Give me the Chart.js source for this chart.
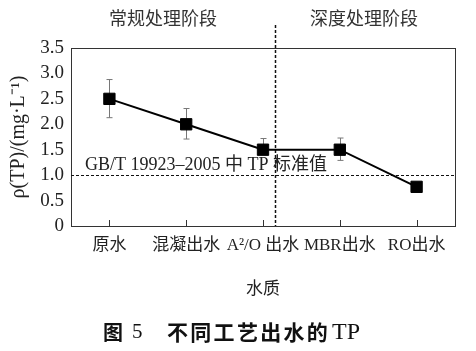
<!DOCTYPE html>
<html>
<head>
<meta charset="utf-8">
<script src="https://cdn.jsdelivr.net/npm/chart.js@4"></script>
<style>
  html, body { margin: 0; padding: 0; background: #fff; }
  #wrap { width: 476px; height: 351px; }
</style>
</head>
<body>
<div id="wrap"><canvas id="tpChart" width="476" height="351"></canvas></div>
<script>
// données
const categories = ['原水', '混凝出水', 'A²/O 出水', 'MBR出水', 'RO出水'];
const tpValues = [2.5, 2.0, 1.5, 1.5, 0.77];
const errHigh = [2.88, 2.31, 1.72, 1.73, null];
const errLow = [2.13, 1.71, 1.45, 1.29, null];
const standardValue = 1.0;
const standardLabel = 'GB/T 19923–2005 中 TP 标准值';
const stageLabels = ['常规处理阶段', '深度处理阶段'];
const stageDivider = 2.16; // entre A²/O et MBR

const SERIF = "'Liberation Serif', 'Noto Sans CJK SC', serif";
const INK = '#222';

// plugin: cadre, ligne de norme, séparateur, barres d'erreur, textes
const decor = {
    id: 'decor',
    beforeDraw(chart) {
        const ctx = chart.ctx;
        ctx.save();
        ctx.fillStyle = '#fff';
        ctx.fillRect(0, 0, chart.width, chart.height);
        ctx.restore();
    },
    beforeDatasetsDraw(chart) {
        const { ctx, chartArea: a, scales: { x, y } } = chart;
        ctx.save();
        // cadre
        ctx.strokeStyle = '#333';
        ctx.lineWidth = 1;
        ctx.strokeRect(a.left + 0.5, a.top + 0.5, a.right - a.left, a.bottom - a.top);
        // petits traits vers l'intérieur
        categories.forEach((c, i) => {
            const px = Math.round(x.getPixelForValue(i)) + 0.5;
            ctx.beginPath();
            ctx.moveTo(px, a.bottom);
            ctx.lineTo(px, a.bottom - 6);
            ctx.stroke();
        });
        // ligne de norme
        const yStd = Math.round(y.getPixelForValue(standardValue)) + 0.5;
        ctx.setLineDash([3, 2]);
        ctx.strokeStyle = '#111';
        ctx.beginPath();
        ctx.moveTo(a.left, yStd);
        ctx.lineTo(a.right, yStd);
        ctx.stroke();
        // séparateur des étapes
        const x0 = x.getPixelForValue(2), x1 = x.getPixelForValue(3);
        const xd = Math.round(x0 + (x1 - x0) * (stageDivider - 2)) + 0.5;
        ctx.lineWidth = 1.5;
        ctx.setLineDash([3, 2]);
        ctx.beginPath();
        ctx.moveTo(xd, 25);
        ctx.lineTo(xd, a.bottom);
        ctx.stroke();
        ctx.setLineDash([]);
        // barres d'erreur
        ctx.strokeStyle = '#777';
        ctx.lineWidth = 1;
        tpValues.forEach((v, i) => {
            if (errHigh[i] == null) return;
            const px = Math.round(x.getPixelForValue(i)) + 0.5;
            const yh = y.getPixelForValue(errHigh[i]);
            const yl = y.getPixelForValue(errLow[i]);
            ctx.beginPath();
            ctx.moveTo(px, yh); ctx.lineTo(px, yl);
            ctx.moveTo(px - 3, yh); ctx.lineTo(px + 3, yh);
            ctx.moveTo(px - 3, yl); ctx.lineTo(px + 3, yl);
            ctx.stroke();
        });
        // texte de la norme
        ctx.fillStyle = INK;
        ctx.font = '18px ' + SERIF;
        ctx.textBaseline = 'alphabetic';
        ctx.textAlign = 'left';
        ctx.fillText(standardLabel, 85, yStd - 6);
        // étapes
        ctx.font = '18px ' + SERIF;
        ctx.textAlign = 'center';
        ctx.textBaseline = 'middle';
        ctx.fillStyle = '#333';
        ctx.fillText(stageLabels[0], 163, 20);
        ctx.fillText(stageLabels[1], 364, 20);
        ctx.restore();
    },
    afterDraw(chart) {
        const ctx = chart.ctx;
        ctx.save();
        ctx.fillStyle = '#111';
        ctx.textBaseline = 'middle';
        ctx.textAlign = 'left';
        const yc = 332;
        let cx = 103;
        ctx.font = "bold 20px 'Noto Sans CJK SC'";
        ctx.fillText('图', cx, yc);
        cx += ctx.measureText('图').width + 9;
        ctx.font = '21px ' + SERIF;
        ctx.fillText('5', cx, yc);
        cx = 167;
        ctx.font = "bold 21px 'Noto Sans CJK SC'";
        for (const ch of '不同工艺出水的') {
            ctx.fillText(ch, cx, yc);
            cx += 23.3;
        }
        cx += 2;
        ctx.font = '24px ' + SERIF;
        ctx.fillText('TP', cx, yc + 1);
        ctx.restore();
    }
};

const chart = new Chart(document.querySelector('#tpChart'), {
    type: 'line',
    data: {
        labels: categories,
        datasets: [{
            label: 'TP',
            data: tpValues,
            borderColor: '#000',
            borderWidth: 2,
            backgroundColor: '#000',
            pointStyle: 'rect',
            pointRadius: 8,
            pointBorderWidth: 1,
            pointBackgroundColor: '#000',
            tension: 0,
        }],
    },
    options: {
        responsive: false,
        animation: false,
        layout: { padding: { top: 48, right: 21, bottom: 47, left: 0 } },
        plugins: {
            legend: { display: false },
            tooltip: { enabled: false },
        },
        scales: {
            x: {
                offset: true,
                grid: { display: false, drawTicks: false },
                border: { display: false },
                ticks: {
                    color: INK,
                    padding: 9,
                    maxRotation: 0,
                    autoSkip: false,
                    font: { family: SERIF, size: 17 },
                },
                title: {
                    display: true,
                    text: '水质',
                    color: INK,
                    padding: { top: 0, bottom: 4 },
                    font: { family: SERIF, size: 17 },
                },
                afterFit(scale) { scale.height = 78; },
            },
            y: {
                min: 0,
                max: 3.5,
                grid: { display: false, drawTicks: false },
                border: { display: false },
                ticks: {
                    stepSize: 0.5,
                    autoSkip: false,
                    color: INK,
                    padding: 7,
                    font: { family: SERIF, size: 19 },
                    callback: v => v === 0 ? '0' : v.toFixed(1),
                },
                title: {
                    display: true,
                    text: 'ρ(TP)/(mg·L⁻¹)',
                    color: INK,
                    padding: { top: 7, bottom: 0 },
                    font: { family: SERIF, size: 20 },
                },
                afterFit(scale) { scale.width = 71; },
            },
        },
    },
    plugins: [decor],
});
</script>
</body>
</html>
